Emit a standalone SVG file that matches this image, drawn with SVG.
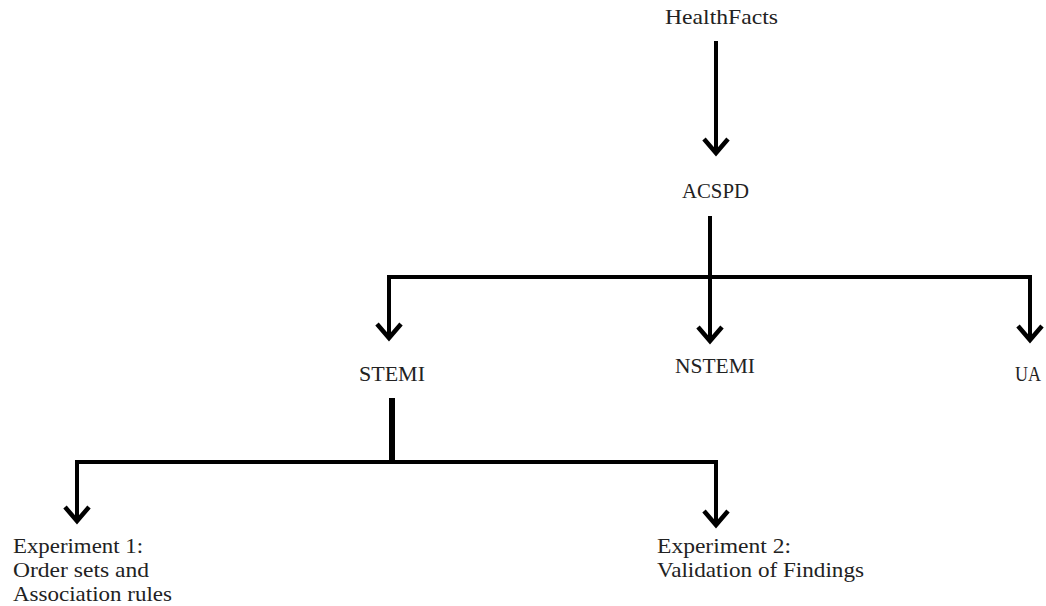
<svg xmlns="http://www.w3.org/2000/svg" width="1046" height="606" viewBox="0 0 1046 606">
<style>
.t{font-family:"Liberation Serif","Times New Roman",serif;font-size:22px;fill:#222}
.c{fill:none;stroke:#000;stroke-width:4}
.h{fill:none;stroke:#000;stroke-width:4.5;stroke-linejoin:miter}
</style>
<rect width="1046" height="606" fill="#fff"/>
<g id="connectors">
<line class="c" x1="716" y1="41" x2="716" y2="153"/>
<polyline class="h" points="704,139 716,153 728,139"/>
<line class="c" x1="710" y1="216" x2="710" y2="341"/>
<polyline class="h" points="698,327 710,341 722,327"/>
<polyline class="c" points="389,338 389,277 1030,277 1030,340"/>
<polyline class="h" points="377,324 389,338 401,324"/>
<polyline class="h" points="1018,326 1030,340 1042,326"/>
<line x1="392" y1="398" x2="392" y2="462" stroke="#000" stroke-width="6"/>
<polyline class="c" points="77,521 77,462 716,462 716,525"/>
<polyline class="h" points="65,507 77,521 89,507"/>
<polyline class="h" points="704,511 716,525 728,511"/>
</g>
<g id="healthfacts"><text class="t" x="665" y="24" textLength="113" lengthAdjust="spacingAndGlyphs">HealthFacts</text></g>
<g id="acspd"><text class="t" x="682" y="198" textLength="67" lengthAdjust="spacingAndGlyphs">ACSPD</text></g>
<g id="stemi"><text class="t" x="359" y="381" textLength="66" lengthAdjust="spacingAndGlyphs">STEMI</text></g>
<g id="nstemi"><text class="t" x="675" y="373" textLength="80" lengthAdjust="spacingAndGlyphs">NSTEMI</text></g>
<g id="ua"><text class="t" x="1015" y="381" textLength="26" lengthAdjust="spacingAndGlyphs">UA</text></g>
<g id="exp1">
<text class="t" x="13" y="553" textLength="130" lengthAdjust="spacingAndGlyphs">Experiment 1:</text>
<text class="t" x="13" y="577" textLength="136" lengthAdjust="spacingAndGlyphs">Order sets and</text>
<text class="t" x="13" y="601" textLength="159" lengthAdjust="spacingAndGlyphs">Association rules</text>
</g>
<g id="exp2">
<text class="t" x="657" y="553" textLength="134" lengthAdjust="spacingAndGlyphs">Experiment 2:</text>
<text class="t" x="657" y="577" textLength="207" lengthAdjust="spacingAndGlyphs">Validation of Findings</text>
</g>
</svg>
